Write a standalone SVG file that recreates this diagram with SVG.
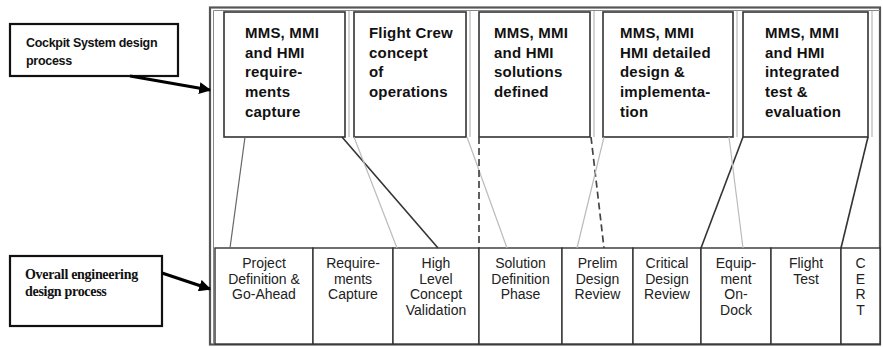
<svg xmlns="http://www.w3.org/2000/svg" width="883" height="347" viewBox="0 0 883 347">
  <style>
    .frame { fill: none; stroke: #555; stroke-width: 2.2; }
    .frame-in { fill: none; stroke: #888; stroke-width: 1; }
    .phase { fill: #fff; stroke: #333; stroke-width: 1.6; }
    .shade { stroke: #aaa; stroke-width: 1; }
    .cell { fill: #fff; stroke: #333; stroke-width: 1.4; }
    .label-box { fill: #fff; stroke: #111; stroke-width: 2.2; }
    .ptxt { font-family: "Liberation Sans", Arial, sans-serif; font-weight: bold; font-size: 15px; fill: #111; letter-spacing: 0.2px; }
    .ctxt { font-family: "Liberation Sans", Arial, sans-serif; font-size: 14px; fill: #222; text-anchor: middle; }
    .ltxt1 { font-family: "Liberation Sans", Arial, sans-serif; font-weight: bold; font-size: 12.5px; fill: #111; letter-spacing: -0.3px; }
    .ltxt2 { font-family: "Liberation Serif", "Times New Roman", serif; font-weight: bold; font-size: 14px; fill: #111; letter-spacing: -0.3px; }
    .dark { stroke: #333; stroke-width: 1.6; fill: none; }
    .mid { stroke: #666; stroke-width: 1.2; fill: none; }
    .light { stroke: #bbb; stroke-width: 1.2; fill: none; }
    .dash { stroke: #444; stroke-width: 1.7; fill: none; stroke-dasharray: 7 4; }
    .arrow { stroke: #000; stroke-width: 3; fill: none; marker-end: url(#head); }
  </style>
  <defs>
    <marker id="head" viewBox="0 0 10 10" refX="9" refY="5" markerWidth="4" markerHeight="4" orient="auto" markerUnits="strokeWidth">
      <path d="M0,0 L10,5 L0,10 z" fill="#000"/>
    </marker>
  </defs>

  <rect width="883" height="347" fill="#fff"/>

  <!-- outer frame (double rule) -->
  <rect class="frame" x="210" y="7.5" width="670" height="337"/>
  <line class="frame-in" x1="213.5" y1="10.5" x2="213.5" y2="344"/>
  <line class="frame-in" x1="213.5" y1="10.5" x2="880" y2="10.5"/>

  <!-- side labels -->
  <g id="label-cockpit">
    <rect class="label-box" x="10" y="24" width="168" height="52"/>
    <text class="ltxt1" x="26" y="47">Cockpit System design</text>
    <text class="ltxt1" x="26" y="65">process</text>
  </g>
  <g id="label-overall">
    <rect class="label-box" x="10" y="256" width="152" height="70"/>
    <text class="ltxt2" x="25" y="279">Overall engineering</text>
    <text class="ltxt2" x="25" y="296">design process</text>
  </g>

  <!-- cockpit design phases -->
  <g id="phase-requirements">
    <rect class="phase" x="224" y="12" width="121" height="125"/>
    <line class="shade" x1="349" y1="11" x2="349" y2="137"/>
    <text class="ptxt" x="245" y="38">MMS, MMI</text>
    <text class="ptxt" x="245" y="57.5">and HMI</text>
    <text class="ptxt" x="245" y="77">require-</text>
    <text class="ptxt" x="245" y="97">ments</text>
    <text class="ptxt" x="245" y="117">capture</text>
  </g>
  <g id="phase-concept">
    <rect class="phase" x="354" y="12" width="112" height="125"/>
    <line class="shade" x1="470" y1="11" x2="470" y2="137"/>
    <text class="ptxt" x="369" y="38">Flight Crew</text>
    <text class="ptxt" x="369" y="57.5">concept</text>
    <text class="ptxt" x="369" y="77">of</text>
    <text class="ptxt" x="369" y="97">operations</text>
  </g>
  <g id="phase-solutions">
    <rect class="phase" x="479" y="12" width="111" height="125"/>
    <line class="shade" x1="594" y1="11" x2="594" y2="137"/>
    <text class="ptxt" x="494" y="38">MMS, MMI</text>
    <text class="ptxt" x="494" y="57.5">and HMI</text>
    <text class="ptxt" x="494" y="77">solutions</text>
    <text class="ptxt" x="494" y="97">defined</text>
  </g>
  <g id="phase-detailed">
    <rect class="phase" x="603" y="12" width="130" height="125"/>
    <line class="shade" x1="737" y1="11" x2="737" y2="137"/>
    <text class="ptxt" x="620" y="38">MMS, MMI</text>
    <text class="ptxt" x="620" y="57.5">HMI detailed</text>
    <text class="ptxt" x="620" y="77">design &amp;</text>
    <text class="ptxt" x="620" y="97">implementa-</text>
    <text class="ptxt" x="620" y="117">tion</text>
  </g>
  <g id="phase-test">
    <rect class="phase" x="743" y="12" width="125" height="125"/>
    <line class="shade" x1="872" y1="11" x2="872" y2="137"/>
    <text class="ptxt" x="765" y="38">MMS, MMI</text>
    <text class="ptxt" x="765" y="57.5">and HMI</text>
    <text class="ptxt" x="765" y="77">integrated</text>
    <text class="ptxt" x="765" y="97">test &amp;</text>
    <text class="ptxt" x="765" y="117">evaluation</text>
  </g>

  <!-- overall engineering stages -->
  <g id="stage-project">
    <rect class="cell" x="215" y="248" width="98" height="96"/>
    <text class="ctxt" x="264" y="268">Project</text>
    <text class="ctxt" x="264" y="283.5">Definition &amp;</text>
    <text class="ctxt" x="264" y="299">Go-Ahead</text>
  </g>
  <g id="stage-requirements">
    <rect class="cell" x="313" y="248" width="80" height="96"/>
    <text class="ctxt" x="353" y="268">Require-</text>
    <text class="ctxt" x="353" y="283.5">ments</text>
    <text class="ctxt" x="353" y="299">Capture</text>
  </g>
  <g id="stage-hlcv">
    <rect class="cell" x="393" y="248" width="86" height="96"/>
    <text class="ctxt" x="436" y="268">High</text>
    <text class="ctxt" x="436" y="283.5">Level</text>
    <text class="ctxt" x="436" y="299">Concept</text>
    <text class="ctxt" x="436" y="314.5">Validation</text>
  </g>
  <g id="stage-solution">
    <rect class="cell" x="479" y="248" width="83" height="96"/>
    <text class="ctxt" x="520.5" y="268">Solution</text>
    <text class="ctxt" x="520.5" y="283.5">Definition</text>
    <text class="ctxt" x="520.5" y="299">Phase</text>
  </g>
  <g id="stage-pdr">
    <rect class="cell" x="562" y="248" width="71" height="96"/>
    <text class="ctxt" x="597.5" y="268">Prelim</text>
    <text class="ctxt" x="597.5" y="283.5">Design</text>
    <text class="ctxt" x="597.5" y="299">Review</text>
  </g>
  <g id="stage-cdr">
    <rect class="cell" x="633" y="248" width="68" height="96"/>
    <text class="ctxt" x="667" y="268">Critical</text>
    <text class="ctxt" x="667" y="283.5">Design</text>
    <text class="ctxt" x="667" y="299">Review</text>
  </g>
  <g id="stage-equipment">
    <rect class="cell" x="701" y="248" width="70" height="96"/>
    <text class="ctxt" x="736" y="268">Equip-</text>
    <text class="ctxt" x="736" y="283.5">ment</text>
    <text class="ctxt" x="736" y="299">On-</text>
    <text class="ctxt" x="736" y="314.5">Dock</text>
  </g>
  <g id="stage-flight">
    <rect class="cell" x="771" y="248" width="70" height="96"/>
    <text class="ctxt" x="806" y="268">Flight</text>
    <text class="ctxt" x="806" y="283.5">Test</text>
  </g>
  <g id="stage-cert">
    <rect class="cell" x="841" y="248" width="39" height="96"/>
    <text class="ctxt" x="860.5" y="268">C</text>
    <text class="ctxt" x="860.5" y="283.5">E</text>
    <text class="ctxt" x="860.5" y="299">R</text>
    <text class="ctxt" x="860.5" y="314.5">T</text>
  </g>

  <!-- connectors -->
  <g id="connectors">
    <line class="mid" x1="245" y1="137" x2="230" y2="248"/>
    <line class="dark" x1="342" y1="137" x2="438" y2="248"/>
    <line class="light" x1="354" y1="137" x2="397" y2="248"/>
    <line class="light" x1="467" y1="137" x2="507" y2="248"/>
    <line class="dash" x1="479" y1="137" x2="479" y2="248"/>
    <line class="dash" x1="591" y1="137" x2="604" y2="248"/>
    <line class="light" x1="604" y1="137" x2="577" y2="248"/>
    <line class="dark" x1="743" y1="137" x2="701" y2="248"/>
    <line class="light" x1="729" y1="137" x2="743" y2="248"/>
    <line class="dark" x1="868" y1="137" x2="841" y2="248"/>
    <line class="arrow" x1="130" y1="76" x2="210" y2="90"/>
    <line class="arrow" x1="162" y1="273" x2="210" y2="289"/>
  </g>
</svg>
